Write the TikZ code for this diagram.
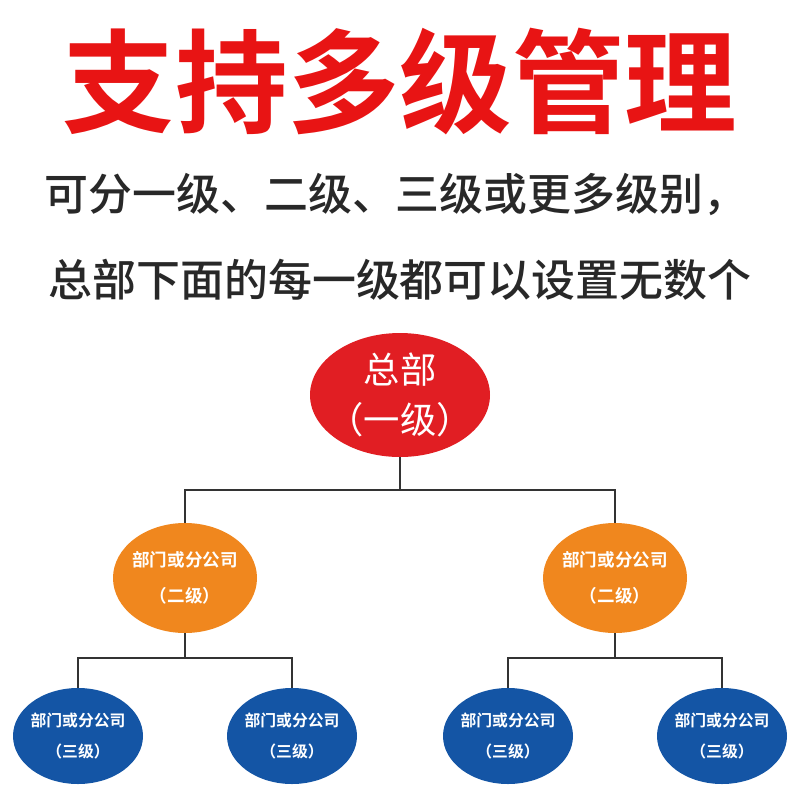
\documentclass[tikz,border=0pt]{standalone}
\usepackage{fontspec}
\setmainfont{Noto Sans CJK SC}[BoldFont={Noto Sans CJK SC Bold}]
\newfontfamily\cjkmed{Noto Sans CJK SC Medium}
\definecolor{tred}{RGB}{232,20,20}
\definecolor{hqred}{RGB}{225,30,35}
\definecolor{org}{RGB}{240,135,30}
\definecolor{blu}{RGB}{20,85,165}
\definecolor{txt}{RGB}{40,40,40}
\usetikzlibrary{shapes.geometric}
\begin{document}
\begin{tikzpicture}[x=0.03cm,y=-0.03cm,
  hq/.style={ellipse,fill=hqred,minimum width=180*0.03cm,minimum height=124*0.03cm,inner sep=-12pt,text=white,align=center,font=\fontsize{31}{42}\selectfont},
  lv2/.style={ellipse,fill=org,minimum width=144*0.03cm,minimum height=110*0.03cm,inner sep=-4pt,text=white,align=center,font=\bfseries\fontsize{15}{31}\selectfont},
  lv3/.style={ellipse,fill=blu,minimum width=130*0.03cm,minimum height=96*0.03cm,inner sep=-4pt,text=white,align=center,font=\bfseries\fontsize{13.5}{26}\selectfont},
  link/.style={draw=black!80,line width=1.6pt}]
\useasboundingbox (0,0) rectangle (800,800);
\node[text=tred,font=\bfseries\fontsize{96}{98}\selectfont] (title) at (400,82) {支持多级管理};
\node[text=txt,font=\cjkmed\fontsize{37.5}{40}\selectfont] (l1) at (396,195) {可分一级、二级、三级或更多级别，};
\node[text=txt,font=\cjkmed\fontsize{37.5}{40}\selectfont] (l2) at (400,280) {总部下面的每一级都可以设置无数个};
\node[hq] (h) at (400,395) {总部\\（一级）};
\node[lv2] (a) at (185,578) {部门或分公司\\（二级）};
\node[lv2] (b) at (615,578) {部门或分公司\\（二级）};
\node[lv3] (a1) at (78,736) {部门或分公司\\（三级）};
\node[lv3] (a2) at (292,736) {部门或分公司\\（三级）};
\node[lv3] (b1) at (508,736) {部门或分公司\\（三级）};
\node[lv3] (b2) at (722,736) {部门或分公司\\（三级）};
\coordinate (jh) at (400,490);
\coordinate (ja) at (185,658);
\coordinate (jb) at (615,658);
\draw[link] (h.south) -- (jh);
\draw[link] (jh) -| (a.north);
\draw[link] (jh) -| (b.north);
\draw[link] (a.south) -- (ja);
\draw[link] (ja) -| (a1.north);
\draw[link] (ja) -| (a2.north);
\draw[link] (b.south) -- (jb);
\draw[link] (jb) -| (b1.north);
\draw[link] (jb) -| (b2.north);
\end{tikzpicture}
\end{document}
